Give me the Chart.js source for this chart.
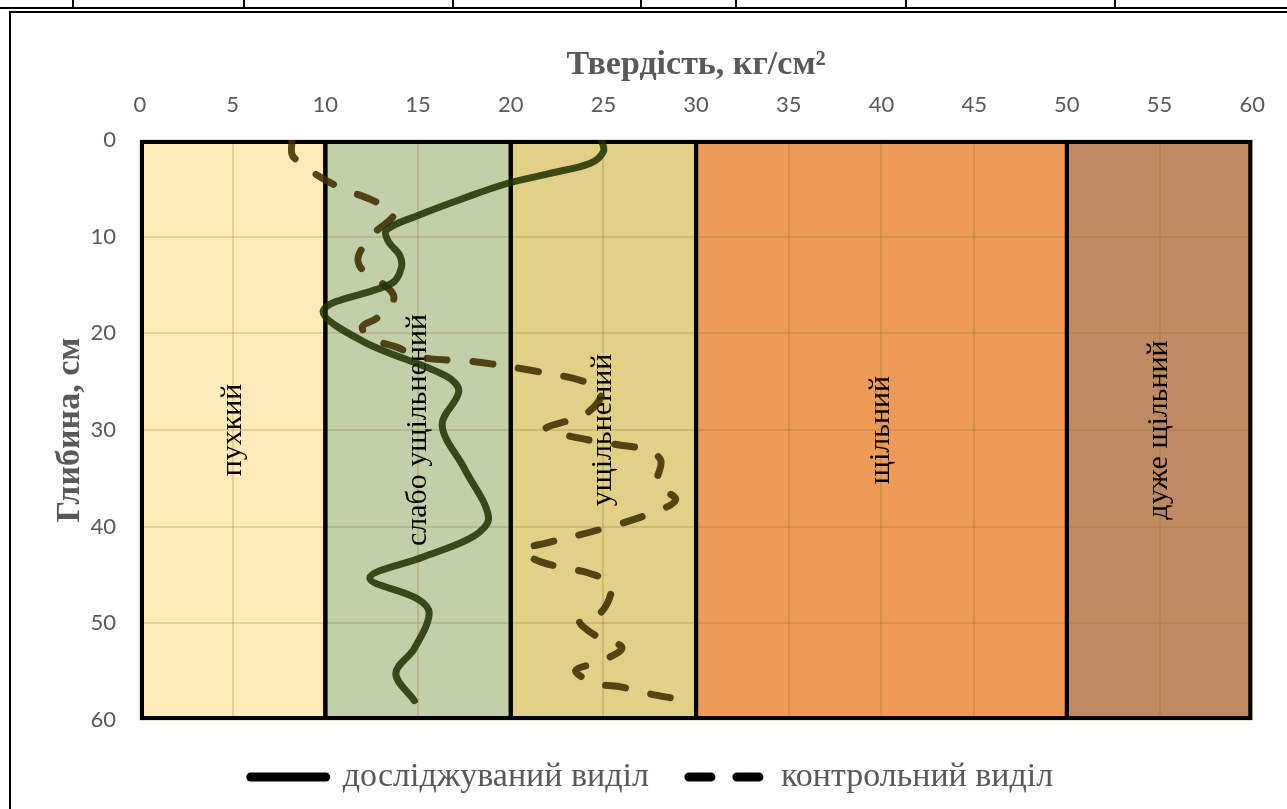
<!DOCTYPE html>
<html>
<head>
<meta charset="utf-8">
<script src="https://cdn.jsdelivr.net/npm/chart.js@4.4.0/dist/chart.umd.min.js"></script>
<style>
body{margin:0;background:#fff;}
#wrap{position:relative;width:1287px;height:809px;overflow:hidden;}
canvas{position:absolute;left:0;top:0;}
.hl{position:absolute;height:2px;background:#000;}
.vl{position:absolute;top:0;width:2px;height:8px;background:#000;}
</style>
</head>
<body>
<div id="wrap">
<canvas id="chart1" width="1287" height="809"></canvas>
<div class="hl" style="top:7px;left:0;width:1287px"></div>
<div class="hl" style="top:11px;left:9px;width:1278px"></div>
<div style="position:absolute;left:9px;top:11px;width:2px;height:798px;background:#000"></div>
<div class="vl" style="left:72px"></div>
<div class="vl" style="left:243px"></div>
<div class="vl" style="left:452px"></div>
<div class="vl" style="left:640px"></div>
<div class="vl" style="left:735px"></div>
<div class="vl" style="left:905px"></div>
<div class="vl" style="left:1114px"></div>
</div>
<script>
// зони твердості
const zoneEdges = [0, 10, 20, 30, 50, 60];
const zoneNames = ["пухкий", "слабо ущільнений", "ущільнений", "щільний", "дуже щільний"];
const zoneColors = ["#FFEBB8", "#C3CFA8", "#E3D088", "#EE9A58", "#BF8A62"];

// досліджуваний виділ
const hardMain = [24.9, 25, 24.3, 22, 19.8, 17.5, 15, 13.3, 13.4, 14, 14.1, 13.6, 9.9, 12, 16.5, 17.2, 16.3, 17.5, 18.8, 18, 15.2, 12.4, 15, 15.6, 14.8, 13.8, 14.8];
const depthMain = [0, 1.2, 2.4, 3.5, 4.5, 6, 7.8, 9.3, 10.5, 11.9, 13.2, 14.8, 17.6, 20.8, 24.4, 26, 29.5, 34, 39, 41, 43.2, 45.3, 47.5, 49, 52.6, 55.2, 58];

// контрольний виділ
const hardControl = [8.2, 8.2, 8.6, 9.7, 11, 12.5, 13.7, 12.6, 11.8, 11.9, 12.8, 13.7, 12.8, 12, 12.4, 13.8, 15.2, 17.9, 21, 24, 24.9, 24, 21.9, 22.9, 24.4, 25.7, 27.4, 28.1, 27.9, 28.9, 27.6, 24.8, 21.9, 20.7, 21.3, 22.7, 24.2, 25.4, 24.9, 23.7, 24.6, 26, 24.9, 23.5, 24.6, 26, 27.5, 28.9];
const depthControl = [0, 1.5, 2.3, 3.8, 5.1, 6.2, 7.6, 9.7, 11.9, 13.2, 14.4, 16.3, 18.4, 19.3, 20.5, 21.4, 22.5, 22.9, 23.8, 25, 26.2, 28.4, 29.8, 30.5, 31.1, 31.5, 32.1, 33.2, 35.6, 37.2, 38.6, 40.3, 41.7, 42.4, 43.4, 44.2, 44.8, 46, 48.8, 49.7, 51.3, 52.5, 53.9, 54.9, 56.2, 56.6, 57.3, 57.8];

const seriesNames = ["досліджуваний виділ", "контрольний виділ"];

function toPoints(xs, ys){
    return xs.map((x, i) => ({x: x, y: ys[i]}));
}

const mainColor = "rgba(30,48,0,0.85)";
const controlColor = "rgba(62,46,0,0.87)";

// фон зон (під сіткою)
const zonesPlugin = {
    id: "zones",
    beforeDraw(chart){
        const {ctx, scales:{x, y}} = chart;
        const top = y.getPixelForValue(0);
        const bottom = y.getPixelForValue(60);
        ctx.save();
        zoneNames.forEach((n, i) => {
            const l = x.getPixelForValue(zoneEdges[i]);
            const r = x.getPixelForValue(zoneEdges[i + 1]);
            ctx.fillStyle = zoneColors[i];
            ctx.fillRect(l, top, r - l, bottom - top);
        });
        ctx.restore();
    },
    beforeDatasetsDraw(chart){
        const {ctx, scales:{x, y}} = chart;
        const top = y.getPixelForValue(0) + 2;
        const bottom = y.getPixelForValue(60) - 2;
        ctx.save();
        ctx.strokeStyle = "#000";
        ctx.lineWidth = 4;
        zoneNames.forEach((n, i) => {
            const l = x.getPixelForValue(zoneEdges[i]) + (i == 0 ? 2 : 0);
            const r = x.getPixelForValue(zoneEdges[i + 1]) - (i == zoneNames.length - 1 ? 2 : 0);
            ctx.strokeRect(l, top, r - l, bottom - top);
        });
        // підписи зон
        ctx.fillStyle = "#000";
        ctx.font = "30px 'Liberation Serif'";
        ctx.textAlign = "center";
        ctx.textBaseline = "middle";
        zoneNames.forEach((n, i) => {
            const xc = x.getPixelForValue((zoneEdges[i] + zoneEdges[i + 1]) / 2);
            const yc = y.getPixelForValue(30);
            ctx.save();
            ctx.translate(xc, yc);
            ctx.rotate(-Math.PI / 2);
            ctx.fillText(n, 0, 0);
            ctx.restore();
        });
        ctx.restore();
    }
};

const gridColor = "rgba(140,110,40,0.22)";

new Chart(
    document.getElementById("chart1"),
    {
        type: "scatter",
        data: {
            datasets: [{
                label: seriesNames[0],
                data: toPoints(hardMain, depthMain),
                showLine: true,
                borderColor: mainColor,
                borderWidth: 7,
                borderCapStyle: "round",
                borderJoinStyle: "round",
                tension: .35,
                pointRadius: 0,
                fill: false
            }, {
                label: seriesNames[1],
                data: toPoints(hardControl, depthControl),
                showLine: true,
                borderColor: controlColor,
                borderWidth: 7,
                borderDash: [20, 26],
                borderCapStyle: "round",
                borderJoinStyle: "round",
                tension: .35,
                pointRadius: 0,
                fill: false
            }]
        },
        options: {
            responsive: false,
            animation: false,
            layout: {
                padding: {left: 50, top: 35, right: 33, bottom: 5}
            },
            scales: {
                x: {
                    position: "top",
                    min: 0,
                    max: 60,
                    ticks: {
                        stepSize: 5,
                        color: "#595959",
                        padding: 22,
                        font: {family: "Lato", size: 22}
                    },
                    grid: {color: gridColor, lineWidth: 2, drawTicks: false},
                    border: {display: false},
                    title: {
                        display: true,
                        text: "Твердість, кг/см²",
                        color: "#595959",
                        padding: {top: 10, bottom: 0},
                        font: {family: "Liberation Serif", size: 34, weight: "bold"}
                    },
                    afterFit(scale){ scale.height = 105; }
                },
                y: {
                    min: 0,
                    max: 60,
                    reverse: true,
                    ticks: {
                        stepSize: 10,
                        color: "#595959",
                        padding: 24,
                        font: {family: "Lato", size: 22}
                    },
                    grid: {color: gridColor, lineWidth: 2, drawTicks: false},
                    border: {display: false},
                    title: {
                        display: true,
                        text: "Глибина, см",
                        color: "#595959",
                        padding: {top: 0, bottom: 0},
                        font: {family: "Liberation Serif", size: 34, weight: "bold"}
                    },
                    afterFit(scale){ scale.width = 90; }
                }
            },
            plugins: {
                legend: {
                    position: "bottom",
                    labels: {
                        usePointStyle: true,
                        pointStyle: "line",
                        pointStyleWidth: 75,
                        padding: 40,
                        color: "#595959",
                        font: {family: "Liberation Serif", size: 34},
                        generateLabels(chart){
                            const items = Chart.defaults.plugins.legend.labels.generateLabels(chart);
                            items.forEach(it => {
                                it.strokeStyle = "#000";
                                it.lineWidth = 9;
                                it.lineCap = "round";
                                it.lineDash = it.datasetIndex == 1 ? [22, 26] : [];
                            });
                            return items;
                        }
                    }
                },
                tooltip: {enabled: false}
            }
        },
        plugins: [zonesPlugin]
    }
);
</script>
</body>
</html>
